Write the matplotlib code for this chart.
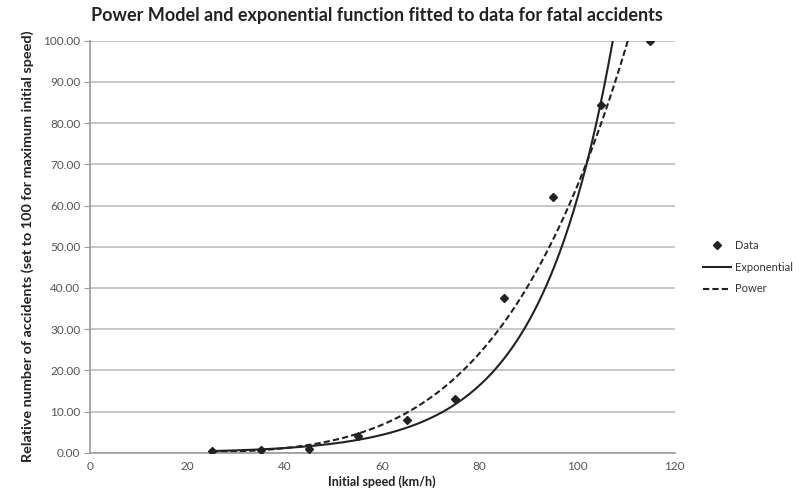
import numpy as np
import matplotlib.pyplot as plt

# observed data (relative number of fatal accidents)
speeds = [25, 35, 45, 55, 65, 75, 85, 95, 105, 115]
accidents = [0.5, 0.7, 1.0, 4.0, 8.0, 13.0, 37.5, 62.0, 84.5, 100.0]

# fitted model coefficients
exp_a, exp_b = 0.083, 0.0661       # y = a * exp(b * x)
pow_a, pow_b = 1.025e-7, 4.4       # y = a * x ** b

x_ticks = [0, 20, 40, 60, 80, 100, 120]
y_ticks = [0, 10, 20, 30, 40, 50, 60, 70, 80, 90, 100]

plt.rcParams['font.family'] = ['Lato', 'DejaVu Sans']

fig = plt.figure(figsize=(8.04, 4.96), dpi=100)
ax = fig.add_axes([0.112, 0.087, 0.727, 0.831])

xs = np.linspace(speeds[0], speeds[-1], 400)
ax.plot(speeds, accidents, linestyle='none', marker='D', markersize=4.3,
        color='#222222', label='Data', zorder=3)
ax.plot(xs, exp_a * np.exp(exp_b * xs), color='#222222', lw=1.5,
        label='Exponential', zorder=2)
ax.plot(xs, pow_a * xs ** pow_b, color='#222222', lw=1.5,
        linestyle=(0, (3, 1.5)), label='Power', zorder=2)

ax.set_xlim(0, 120)
ax.set_ylim(0, 100)
ax.set_xticks(x_ticks)
ax.set_yticks(y_ticks)
ax.set_yticklabels([f"{v:.2f}" for v in y_ticks])
ax.grid(axis='y', color='#bdbdbd', lw=1.2)
ax.set_axisbelow(True)

for side in ['top', 'right']:
    ax.spines[side].set_visible(False)
for side in ['left', 'bottom']:
    ax.spines[side].set_color('#9a9a9a')
    ax.spines[side].set_linewidth(1.2)
ax.tick_params(axis='y', length=4, color='#9a9a9a', labelsize=8.5,
               labelcolor='#555555', pad=3)
ax.tick_params(axis='x', length=0, labelsize=8.5, labelcolor='#555555', pad=6)

fig.text(377 / 804, 1 - 15 / 496,
         "Power Model and exponential function fitted to data for fatal accidents",
         ha='center', va='center', fontsize=13, fontweight='bold', color='#222222')
ax.set_xlabel("Initial speed (km/h)", fontsize=9, fontweight='bold',
              color='#222222', labelpad=2)
fig.text(28 / 804, 1 - 246 / 496,
         "Relative number of accidents (set to 100 for maximum initial speed)",
         rotation=90, ha='center', va='center', fontsize=10.4,
         fontweight='bold', color='#222222')

leg = ax.legend(loc='center left', bbox_to_anchor=(1.04, 0.45), frameon=False,
                fontsize=8, handlelength=2.5, labelspacing=0.95,
                handletextpad=0.3, borderpad=0)
for t in leg.get_texts():
    t.set_color('#333333')

fig.savefig('out.png', dpi=100)
